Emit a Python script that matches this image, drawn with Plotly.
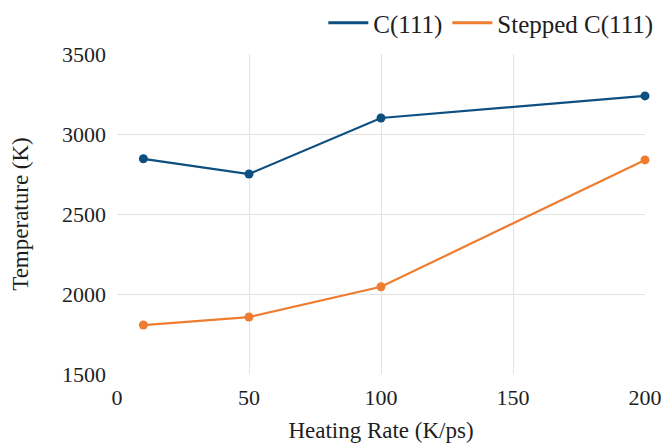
import plotly.graph_objects as go

heating_rate = [10, 50, 100, 200]
c111 = [2845, 2750, 3100, 3238]
stepped_c111 = [1806, 1856, 2045, 2838]
series_names = ["C(111)", "Stepped C(111)"]
colors = ["#0d4f80", "#ee7d31"]

fig = go.Figure()
for name, vals, col in zip(series_names, [c111, stepped_c111], colors):
    fig.add_trace(go.Scatter(
        x=heating_rate, y=vals, mode="lines+markers", name=name,
        line=dict(color=col, width=2.2), marker=dict(color=col, size=9),
        showlegend=False, legendgroup=name, cliponaxis=False,
    ))
    fig.add_trace(go.Scatter(
        x=[None], y=[None], mode="lines", name=name,
        line=dict(color=col, width=2.8), legendgroup=name, showlegend=True,
    ))

ff = "Liberation Serif"
txt = "#1e1e1e"
fig.update_layout(
    width=667, height=444,
    margin=dict(l=117, r=22, t=54, b=70, autoexpand=False),
    paper_bgcolor="white", plot_bgcolor="white",
    font=dict(family=ff, color=txt, size=20),
    legend=dict(orientation="h", x=0.987, xanchor="right", y=1.0, yanchor="top",
                xref="container", yref="container",
                font=dict(size=25, family=ff, color=txt),
                itemwidth=40, traceorder="normal", bgcolor="rgba(0,0,0,0)"),
    xaxis=dict(range=[0, 200], tickvals=[0, 50, 100, 150, 200],
               showgrid=True, gridcolor="#e3e3e3", gridwidth=1,
               zeroline=False, showline=False, ticks="", automargin=False,
               tickfont=dict(size=22, family=ff, color=txt), ticklabelstandoff=8,
               title=dict(text="Heating Rate (K/ps)", font=dict(size=23, family=ff, color=txt),
                          standoff=12)),
    yaxis=dict(range=[1500, 3500], tickvals=[1500, 2000, 2500, 3000, 3500],
               showgrid=True, gridcolor="#e3e3e3", gridwidth=1,
               zeroline=False, showline=False, ticks="", automargin=False,
               tickfont=dict(size=22, family=ff, color=txt), ticklabelstandoff=10,
               title=dict(text="Temperature (K)", font=dict(size=23, family=ff, color=txt),
                          standoff=26)),
)
fig.write_html("out.html")
